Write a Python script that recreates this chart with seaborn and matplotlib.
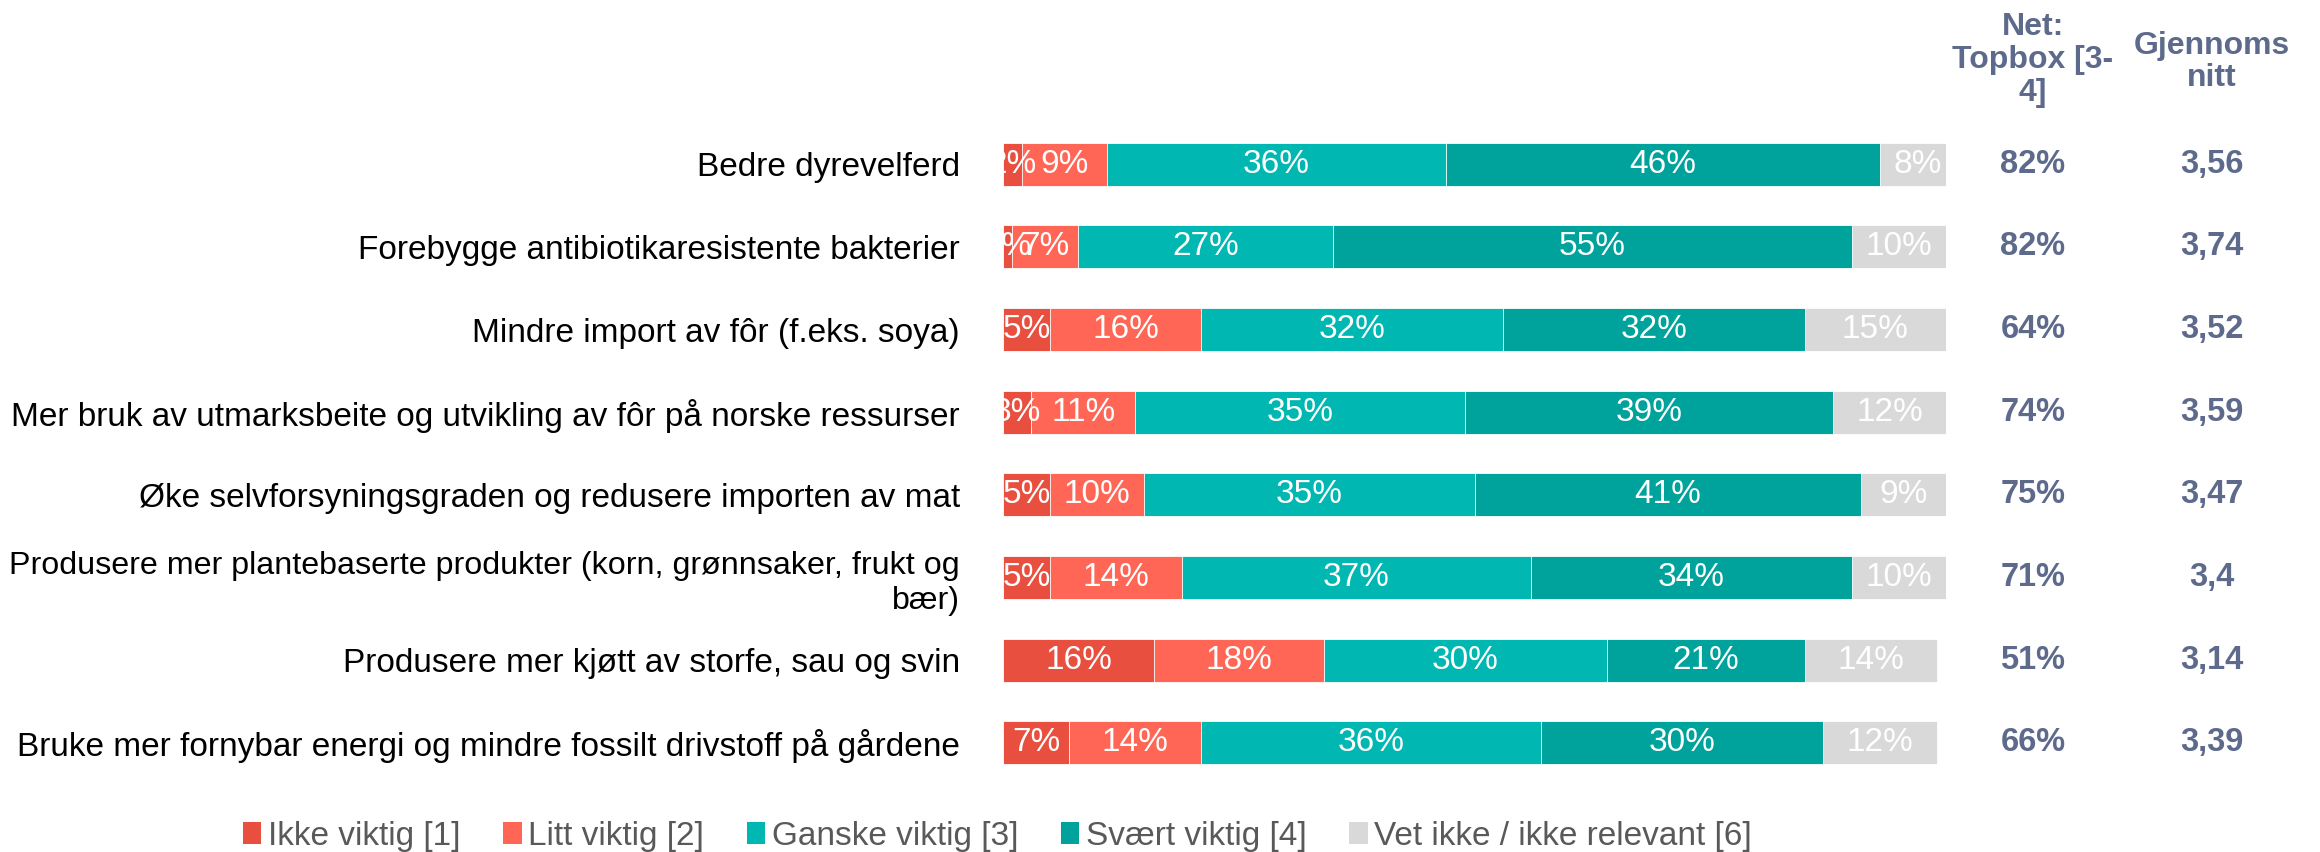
import matplotlib
matplotlib.use("Agg")
import matplotlib.pyplot as plt
from matplotlib.patches import Patch
from matplotlib.transforms import blended_transform_factory
import numpy as np
import pandas as pd
import seaborn as sns

categories = [
    "Bedre dyrevelferd",
    "Forebygge antibiotikaresistente bakterier",
    "Mindre import av fôr (f.eks. soya)",
    "Mer bruk av utmarksbeite og utvikling av fôr på norske ressurser",
    "Øke selvforsyningsgraden og redusere importen av mat",
    "Produsere mer plantebaserte produkter (korn, grønnsaker, frukt og\nbær)",
    "Produsere mer kjøtt av storfe, sau og svin",
    "Bruke mer fornybar energi og mindre fossilt drivstoff på gårdene",
]
series_names = ["Ikke viktig [1]", "Litt viktig [2]", "Ganske viktig [3]",
                "Svært viktig [4]", "Vet ikke / ikke relevant [6]"]
ikke_viktig = [2, 1, 5, 3, 5, 5, 16, 7]
litt_viktig = [9, 7, 16, 11, 10, 14, 18, 14]
ganske_viktig = [36, 27, 32, 35, 35, 37, 30, 36]
svaert_viktig = [46, 55, 32, 39, 41, 34, 21, 30]
vet_ikke = [8, 10, 15, 12, 9, 10, 14, 12]
topbox = ["82%", "82%", "64%", "74%", "75%", "71%", "51%", "66%"]
gjennomsnitt = ["3,56", "3,74", "3,52", "3,59", "3,47", "3,4", "3,14", "3,39"]

colors = ["#E84F3F", "#FF6655", "#00B7B2", "#00A29C", "#D9D9D9"]
side_color = "#5D6A8C"
FS = 24

sns.set_theme(style="white")
plt.rcParams["font.family"] = ["Liberation Sans", "DejaVu Sans"]

values = np.array([ikke_viktig, litt_viktig, ganske_viktig, svaert_viktig, vet_ikke]).T
cum = np.cumsum(values, axis=1)

fig = plt.figure(figsize=(23.2, 8.52), dpi=100)
ax = fig.add_axes([1003 / 2320, 1 - 784 / 852, 943 / 2320, 661 / 852])

# stacked bars: draw cumulative totals from the longest layer down
for k in range(values.shape[1] - 1, -1, -1):
    df = pd.DataFrame({"cat": categories, "val": cum[:, k]})
    sns.barplot(data=df, x="val", y="cat", orient="h", color=colors[k],
                saturation=1, width=0.52, edgecolor="#FFFFFF", linewidth=0.6,
                ax=ax)

# segment labels, clipped at the left edge of the plot area
for i in range(len(categories)):
    left = 0
    for k in range(values.shape[1]):
        v = values[i, k]
        ax.text(left + v / 2, i, f"{v}%", ha="center", va="center",
                color="white", fontsize=FS, clip_on=True)
        left += v

ax.set_xlim(0, 100)
ax.set_ylim(len(categories) - 0.5, -0.5)
ax.set_xlabel("")
ax.set_ylabel("")
ax.set_xticks([])
ax.set_yticks(range(len(categories)))
ax.set_yticklabels(categories, fontsize=FS, color="black", ha="right",
                   multialignment="right")
ax.get_yticklabels()[5].set_fontsize(23.2)
ax.tick_params(axis="y", length=0, pad=31)
for s in ax.spines.values():
    s.set_visible(False)

# side columns
tr = blended_transform_factory(fig.transFigure, ax.transData)
for i in range(len(categories)):
    ax.text(2033 / 2320, i, topbox[i], transform=tr, ha="center", va="center",
            fontsize=23.5, fontweight="bold", color=side_color, clip_on=False)
    ax.text(2212 / 2320, i, gjennomsnitt[i], transform=tr, ha="center",
            va="center", fontsize=23.5, fontweight="bold", color=side_color,
            clip_on=False)

fig.text(2033 / 2320, 1 - 60 / 852, "Net:\nTopbox [3-\n4]", ha="center",
         va="center", fontsize=23, fontweight="bold", color=side_color,
         linespacing=1.12)
fig.text(2212 / 2320, 1 - 62 / 852, "Gjennoms\nnitt", ha="center",
         va="center", fontsize=23, fontweight="bold", color=side_color,
         linespacing=1.12)

handles = [Patch(facecolor=c, edgecolor="none") for c in colors]
fig.legend(handles, series_names, loc="center left", ncol=5,
           bbox_to_anchor=(243 / 2320, 1 - 836 / 852), frameon=False,
           fontsize=FS, labelcolor="#595959", handlelength=0.55,
           handleheight=0.65, handletextpad=0.2, columnspacing=1.28,
           borderpad=0, borderaxespad=0)

fig.savefig("out.png", dpi=100)
